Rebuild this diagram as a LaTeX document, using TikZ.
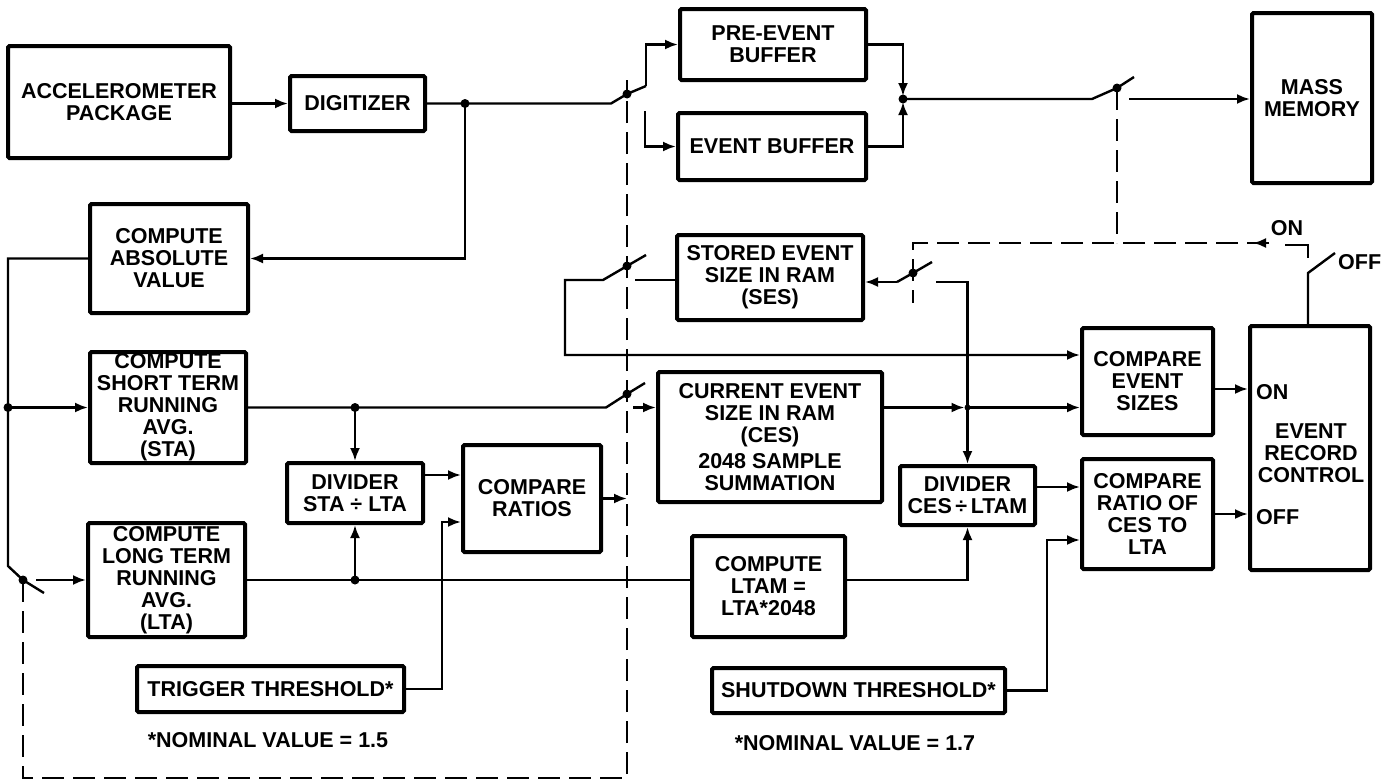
\documentclass[tikz,border=0pt]{standalone}
\usepackage{fontspec}
\setmainfont{Liberation Sans}
\usetikzlibrary{arrows.meta}
\newcommand\dfont{\fontsize{21.5}{22}\selectfont\bfseries}
\begin{document}
\begin{tikzpicture}[x=1pt,y=-1pt,
  box/.style={draw, line width=4pt, rounded corners=1.5pt, align=center, inner sep=0pt, font=\dfont},
  lbl/.style={inner sep=0pt, font=\dfont},
  conn/.style={line width=2.4pt},
  arr/.style={line width=2.4pt, -{Latex[length=13pt,width=10pt]}},
  dsh/.style={line width=2.6pt, dash pattern=on 22pt off 9pt}]
\useasboundingbox (0,0) rectangle (1397,782);

% ---------- boxes ----------
\node[box, minimum width=222pt, minimum height=112pt] (acc) at (119,102) {ACCELEROMETER\\PACKAGE};
\node[box, minimum width=135pt, minimum height=55pt] (dig) at (357.5,103.5) {DIGITIZER};
\node[box, minimum width=158pt, minimum height=109pt] (abs) at (169,258.5) {COMPUTE\\ABSOLUTE\\VALUE};
\node[box, minimum width=156pt, minimum height=111pt] (sta) at (168,407.5) {COMPUTE\\SHORT TERM\\RUNNING\\AVG.\\(STA)};
\node[box, minimum width=157pt, minimum height=114pt] (lta) at (166.5,580) {COMPUTE\\LONG TERM\\RUNNING\\AVG.\\(LTA)};
\node[box, minimum width=136pt, minimum height=60pt] (divA) at (355,493) {DIVIDER\\STA ÷ LTA};
\node[box, minimum width=138pt, minimum height=107pt] (cmpR) at (532,498.5) {COMPARE\\RATIOS};
\node[box, minimum width=267pt, minimum height=46pt] (trig) at (270.5,689) {TRIGGER THRESHOLD*};
\node[box, minimum width=186pt, minimum height=71pt] (pre) at (773,44.5) {PRE-EVENT\\BUFFER};
\node[box, minimum width=188pt, minimum height=67pt] (evb) at (772,146.5) {EVENT BUFFER};
\node[box, minimum width=120pt, minimum height=170pt] (mass) at (1312,98) {MASS\\MEMORY};
\node[box, minimum width=186pt, minimum height=85pt] (ses) at (770,277.5) {STORED EVENT\\SIZE IN RAM\\(SES)};
\node[box, minimum width=224pt, minimum height=130pt] (ces) at (770,437) {CURRENT EVENT\\SIZE IN RAM\\(CES)\\[4pt]2048 SAMPLE\\SUMMATION};
\node[box, minimum width=153pt, minimum height=101pt] (ltam) at (768.5,586.5) {COMPUTE\\LTAM =\\LTA*2048};
\node[box, minimum width=135pt, minimum height=59pt] (divB) at (967.5,495.5) {DIVIDER\\CES\,÷\,LTAM};
\node[box, minimum width=131pt, minimum height=107pt] (cmpE) at (1147.5,381.5) {COMPARE\\EVENT\\SIZES};
\node[box, minimum width=131pt, minimum height=110pt] (cmpC) at (1147.5,514) {COMPARE\\RATIO OF\\CES TO\\LTA};
\node[box, minimum width=120pt, minimum height=244pt] (erc) at (1310,448) {};
\node[box, minimum width=293pt, minimum height=45pt] (shut) at (858.5,690.5) {SHUTDOWN THRESHOLD*};

% ---------- labels ----------
\node[lbl, align=center] (ercT) at (1311,453) {EVENT\\RECORD\\CONTROL};
\node[lbl, anchor=west] (ercOn) at (1256,392) {ON};
\node[lbl, anchor=west] (ercOff) at (1256,517) {OFF};
\node[lbl] (onL) at (1287,228) {ON};
\node[lbl, anchor=west] (offL) at (1338,262) {OFF};
\node[lbl] (note1) at (268,740) {*NOMINAL VALUE = 1.5};
\node[lbl] (note2) at (855,743) {*NOMINAL VALUE = 1.7};

% ---------- coordinates ----------
\coordinate (j1) at (465,103.5);
\coordinate (absL) at (8,258.5);
\coordinate (jL) at (8,407.5);
\coordinate (swLtop) at (8,566);
\coordinate (swL) at (23,580);
\coordinate (swLend) at (44,593);
\coordinate (ltaIn) at (36,580);
\coordinate (dA) at (23,778);
\coordinate (dB) at (627,778);
\coordinate (dTop) at (627,80);
\coordinate (jS) at (355,407.5);
\coordinate (staBend) at (606,407.5);
\coordinate (swS) at (627,394);
\coordinate (swSend) at (645,383);
\coordinate (cS) at (633,407.5);
\coordinate (jLT) at (355,580);
\coordinate (tr1) at (442,522);
\coordinate (mBend) at (611,103.5);
\coordinate (swM) at (627,94);
\coordinate (swMend) at (646,86);
\coordinate (cM) at (645,111);
\coordinate (jB) at (903,99);
\coordinate (mmBend) at (1092,99);
\coordinate (swMM) at (1117,88);
\coordinate (swMMend) at (1134,77);
\coordinate (cMM) at (1129,99);
\coordinate (dC) at (1117,243);
\coordinate (dD) at (913,243);
\coordinate (swSR) at (913,273);
\coordinate (dE) at (913,303);
\coordinate (onT) at (1269,243);
\coordinate (onArr) at (1253,243);
\coordinate (onC) at (1285,245);
\coordinate (onK) at (1308,245);
\coordinate (onKd) at (1308,258);
\coordinate (ercB) at (1308,273);
\coordinate (ercBend) at (1335,253);
\coordinate (sesB) at (897,282);
\coordinate (swSRend) at (932,262);
\coordinate (cSR) at (936,282);
\coordinate (jC) at (967.5,407.5);
\coordinate (sesLB) at (603,280);
\coordinate (swSL) at (627,266);
\coordinate (swSLend) at (646,255);
\coordinate (cSL) at (635,280);
\coordinate (loopA) at (565,280);
\coordinate (loopB) at (565,355);
\coordinate (sh1) at (1047,540);

% ---------- connectors ----------
\draw[arr] (acc.east |- dig.west) -- (dig.west);
\draw[conn] (dig.east) -- (j1) -- (mBend) -- (swM) -- (swMend);
\draw[arr] (j1) |- (abs.east);
\draw[conn] (abs.west) -- (absL) -- (jL) -- (swLtop) -- (swL) -- (swLend);
\draw[arr] (jL) -- (sta.west);
\draw[arr] (ltaIn) -- (lta.west);
\draw[conn] (sta.east) -- (jS) -- (staBend) -- (swS) -- (swSend);
\draw[arr] (cS) -- (ces.west |- cS);
\draw[arr] (jS) -- (divA.north);
\draw[conn] (lta.east) -- (jLT) -- (ltam.west |- jLT);
\draw[arr] (jLT) -- (divA.south);
\draw[arr] ([yshift=18pt]divA.east) -- ([yshift=18pt]divA.east -| cmpR.west);
\draw[arr] (trig.east) -| (tr1) -- (cmpR.west |- tr1);
\draw[arr] (cmpR.east) -- (cmpR.east -| dTop);
\draw[arr] (ltam.east |- jLT) -| (divB.south);
\draw[arr] (swMend) |- (pre.west);
\draw[arr] (cM) |- (evb.west);
\draw[arr, shorten >=3pt] (pre.east) -| (jB);
\draw[arr, shorten >=3pt] (evb.east) -| (jB);
\draw[conn] (jB) -- (mmBend) -- (swMM) -- (swMMend);
\draw[arr] (cMM) -- (mass.west |- cMM);
\draw[arr] (sesB) -- (ses.east |- sesB);
\draw[conn] (sesB) -- (swSR) -- (swSRend);
\draw[conn] (cSR) -| (jC);
\draw[arr] (jC) -- (divB.north);
\draw[arr, shorten >=3pt] (ces.east |- jC) -- (jC);
\draw[arr] (jC) -- (cmpE.west |- jC);
\draw[conn] (ses.west |- cSL) -- (cSL);
\draw[arr] (swSLend) -- (swSL) -- (sesLB) -- (loopA) -- (loopB) -- (cmpE.west |- loopB);
\draw[arr] (shut.east) -| (sh1) -- (cmpC.west |- sh1);
\draw[arr] ([yshift=8.5pt]divB.east) -- ([yshift=8.5pt]divB.east -| cmpC.west);
\draw[arr] ([yshift=-7.5pt]cmpE.east) -- ([yshift=-7.5pt]cmpE.east -| erc.west);
\draw[arr] (cmpC.east) -- (cmpC.east -| erc.west);
\draw[conn] (ercB |- erc.north) -- (ercB) -- (ercBend);
\draw[conn] (onC) -- (onK) -- (onKd);
\draw[arr] (onT) -- (onArr);

% ---------- control (dashed) lines ----------
\draw[dsh] (swL) -- (dA) -- (dB) -- (dTop);
\draw[dsh] (swMM) -- (dC);
\draw[dsh] (onT) -- (dD) -- (dE);

% ---------- dots ----------
\foreach \p in {j1,jL,jS,jLT,jB,swL,swM,swS,swSL,swSR,swMM}
  \fill (\p) circle (4.5pt);
\fill (jC) circle (3pt);
\end{tikzpicture}
\end{document}
